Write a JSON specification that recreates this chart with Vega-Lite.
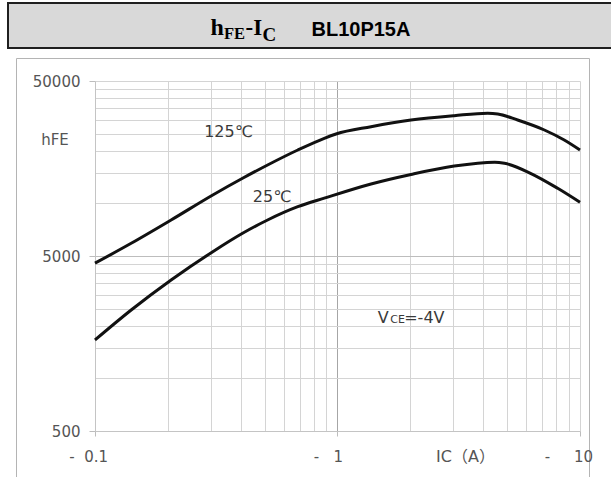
{
  "$schema": "https://vega.github.io/schema/vega-lite/v6.json",
  "autosize": {"type": "none"},
  "padding": {"left": 8, "top": 3, "right": 603, "bottom": 474},
  "background": "white",
  "config": {"view": {"stroke": null}},
  "datasets": {
    "curves": [
      {"T": "125", "IC": 0.1, "hFE": 4550},
      {"T": "125", "IC": 0.141, "hFE": 5910},
      {"T": "125", "IC": 0.206, "hFE": 8030},
      {"T": "125", "IC": 0.306, "hFE": 11160},
      {"T": "125", "IC": 0.406, "hFE": 13900},
      {"T": "125", "IC": 0.515, "hFE": 16560},
      {"T": "125", "IC": 0.686, "hFE": 20170},
      {"T": "125", "IC": 0.882, "hFE": 23530},
      {"T": "125", "IC": 0.986, "hFE": 24890},
      {"T": "125", "IC": 1.375, "hFE": 27400},
      {"T": "125", "IC": 2.01, "hFE": 29920},
      {"T": "125", "IC": 3.03, "hFE": 31690},
      {"T": "125", "IC": 4.16, "hFE": 32700},
      {"T": "125", "IC": 4.58, "hFE": 32400},
      {"T": "125", "IC": 5.53, "hFE": 29920},
      {"T": "125", "IC": 7.13, "hFE": 26240},
      {"T": "125", "IC": 8.61, "hFE": 23010},
      {"T": "125", "IC": 10, "hFE": 20170},
      {"T": "25", "IC": 0.1, "hFE": 1656},
      {"T": "25", "IC": 0.141, "hFE": 2457},
      {"T": "25", "IC": 0.206, "hFE": 3647},
      {"T": "25", "IC": 0.306, "hFE": 5290},
      {"T": "25", "IC": 0.406, "hFE": 6740},
      {"T": "25", "IC": 0.515, "hFE": 8030},
      {"T": "25", "IC": 0.686, "hFE": 9565},
      {"T": "25", "IC": 0.882, "hFE": 10700},
      {"T": "25", "IC": 1.375, "hFE": 12900},
      {"T": "25", "IC": 2.01, "hFE": 14620},
      {"T": "25", "IC": 3.03, "hFE": 16330},
      {"T": "25", "IC": 4.45, "hFE": 17180},
      {"T": "25", "IC": 4.88, "hFE": 16940},
      {"T": "25", "IC": 6.25, "hFE": 14850},
      {"T": "25", "IC": 8.09, "hFE": 12190},
      {"T": "25", "IC": 10, "hFE": 10140}
    ],
    "notes": [
      {"IC": 0.355, "hFE": 25660, "label": "125℃"},
      {"IC": 0.537, "hFE": 10910, "label": "25℃"}
    ],
    "vce": [
      {"IC": 1.465, "hFE": 2060}
    ]
  },
  "spacing": 8,
  "vconcat": [
    {
      "width": 604,
      "height": 45,
      "view": {"fill": "#d9d9d9", "stroke": "#1f1f1f", "strokeWidth": 2},
      "data": {"values": [{}]},
      "layer": [
        {"mark": {"type": "text", "text": "h", "font": "Liberation Serif", "fontWeight": "bold", "fontSize": 24, "align": "left", "baseline": "alphabetic", "x": "width", "y": "height", "dx": -401.5, "dy": -12.7, "color": "#000000"}},
        {"mark": {"type": "text", "text": "FE", "font": "Liberation Serif", "fontWeight": "bold", "fontSize": 16.5, "align": "left", "baseline": "alphabetic", "x": "width", "y": "height", "dx": -388, "dy": -9.3, "color": "#000000"}},
        {"mark": {"type": "text", "text": "-I", "font": "Liberation Serif", "fontWeight": "bold", "fontSize": 23, "align": "left", "baseline": "alphabetic", "x": "width", "y": "height", "dx": -366.5, "dy": -12.7, "color": "#000000"}},
        {"mark": {"type": "text", "text": "C", "font": "Liberation Serif", "fontWeight": "bold", "fontSize": 19, "align": "left", "baseline": "alphabetic", "x": "width", "y": "height", "dx": -349.5, "dy": -7.5, "color": "#000000"}},
        {"mark": {"type": "text", "text": "BL10P15A", "font": "Liberation Sans", "fontWeight": "bold", "fontSize": 20, "align": "left", "baseline": "alphabetic", "x": "width", "y": "height", "dx": -300.5, "dy": -11.7, "color": "#000000"}}
      ]
    },
    {
      "spacing": 6,
      "hconcat": [
        {
          "width": 1,
          "height": 1,
          "data": {"values": [{}]},
          "mark": {"type": "text", "text": "", "fontSize": 1, "align": "left", "baseline": "top"}
        },
        {
          "width": 573,
          "height": 420,
          "view": {"fill": "white", "stroke": "#b4b4b4", "strokeWidth": 1},
          "resolve": {"axis": {"x": "independent"}},
          "layer": [
            {
              "data": {"name": "curves"},
              "mark": {"type": "line", "interpolate": "monotone", "color": "#111111", "strokeWidth": 3},
              "encoding": {
                "x": {
                  "field": "IC",
                  "type": "quantitative",
                  "scale": {"type": "log", "domain": [0.1, 10], "range": [79, 564], "nice": false},
                  "axis": {
                    "orient": "bottom",
                    "values": [0.1, 1, 10],
                    "offset": -47,
                    "grid": false,
                    "domainColor": "#c4c4c4",
                    "ticks": true,
                    "tickSize": 5,
                    "tickColor": "#bdbdbd",
                    "labelExpr": "datum.value === 0.1 ? '-\u00a0\u00a00.1' : datum.value === 1 ? '-\u00a0\u00a0\u00a01' : '-\u00a0\u00a0\u00a0\u00a0\u00a010'",
                    "labelAlign": "right",
                    "labelOffset": {"condition": {"test": "datum.value === 1", "value": 5}, "value": 12.5},
                    "labelBaseline": "middle",
                    "labelPadding": 20,
                    "labelFont": "DejaVu Sans",
                    "labelFontSize": 15,
                    "labelColor": "#555555",
                    "labelFlush": false,
                    "labelOverlap": false,
                    "title": "IC（A）",
                    "titleX": 449,
                    "titleY": 25,
                    "titleAlign": "center",
                    "titleBaseline": "middle",
                    "titleFont": "DejaVu Sans, Noto Sans CJK SC",
                    "titleFontSize": 16,
                    "titleFontWeight": "normal",
                    "titleColor": "#555555"
                  }
                },
                "y": {
                  "field": "hFE",
                  "type": "quantitative",
                  "scale": {"type": "log", "domain": [500, 50000], "range": [373, 23], "nice": false},
                  "axis": {
                    "values": [500, 1000, 1500, 2000, 2500, 3000, 3500, 4000, 4500, 5000, 10000, 15000, 20000, 25000, 30000, 35000, 40000, 45000, 50000],
                    "offset": -79,
                    "format": "d",
                    "grid": true,
                    "gridColor": {"condition": {"test": "datum.value === 5000", "value": "#bdbdbd"}, "value": "#d4d4d4"},
                    "gridWidth": 1,
                    "domainColor": "#c4c4c4",
                    "ticks": true,
                    "tickSize": 6,
                    "tickColor": "#bdbdbd",
                    "tickOpacity": {"condition": {"test": "indexof([500,5000,50000], datum.value) >= 0", "value": 1}, "value": 0},
                    "labelExpr": "indexof([500,5000,50000], datum.value) >= 0 ? datum.label : ''",
                    "labelPadding": 9,
                    "labelFont": "DejaVu Sans",
                    "labelFontSize": 15,
                    "labelColor": "#555555",
                    "labelFlush": false,
                    "labelOverlap": false,
                    "title": "hFE",
                    "titleAngle": 0,
                    "titleX": -40.5,
                    "titleY": 81,
                    "titleAlign": "center",
                    "titleBaseline": "middle",
                    "titleFont": "DejaVu Sans",
                    "titleFontSize": 15,
                    "titleFontWeight": "normal",
                    "titleColor": "#555555"
                  }
                },
                "detail": {"field": "T"}
              }
            },
            {
              "data": {"name": "notes"},
              "mark": {"type": "text", "font": "DejaVu Sans, Noto Sans CJK SC", "fontSize": 16, "color": "#3a3a3a", "align": "center", "baseline": "middle"},
              "encoding": {
                "x": {
                  "field": "IC",
                  "type": "quantitative",
                  "axis": {
                    "orient": "top",
                    "values": [0.1, 0.2, 0.3, 0.4, 0.5, 0.6, 0.7, 0.8, 0.9, 1, 2, 3, 4, 5, 6, 7, 8, 9, 10],
                    "offset": 0,
                    "grid": true,
                    "gridColor": {"condition": {"test": "datum.value === 1", "value": "#a6a6a6"}, "value": "#d4d4d4"},
                    "gridWidth": 1,
                    "domain": false,
                    "ticks": false,
                    "labels": false,
                    "title": null
                  }
                },
                "y": {"field": "hFE", "type": "quantitative"},
                "text": {"field": "label"}
              }
            },
            {
              "data": {"name": "vce"},
              "mark": {"type": "text", "text": "V", "font": "DejaVu Sans", "fontSize": 16, "color": "#3a3a3a", "align": "left", "baseline": "alphabetic", "dx": 0},
              "encoding": {
                "x": {"field": "IC", "type": "quantitative", "axis": null},
                "y": {"field": "hFE", "type": "quantitative"}
              }
            },
            {
              "data": {"name": "vce"},
              "mark": {"type": "text", "text": "CE", "font": "DejaVu Sans", "fontSize": 11, "color": "#3a3a3a", "align": "left", "baseline": "alphabetic", "dx": 12.5},
              "encoding": {
                "x": {"field": "IC", "type": "quantitative", "axis": null},
                "y": {"field": "hFE", "type": "quantitative"}
              }
            },
            {
              "data": {"name": "vce"},
              "mark": {"type": "text", "text": "=-4V", "font": "DejaVu Sans", "fontSize": 16, "color": "#3a3a3a", "align": "left", "baseline": "alphabetic", "dx": 26.5},
              "encoding": {
                "x": {"field": "IC", "type": "quantitative", "axis": null},
                "y": {"field": "hFE", "type": "quantitative"}
              }
            }
          ]
        }
      ]
    }
  ]
}
